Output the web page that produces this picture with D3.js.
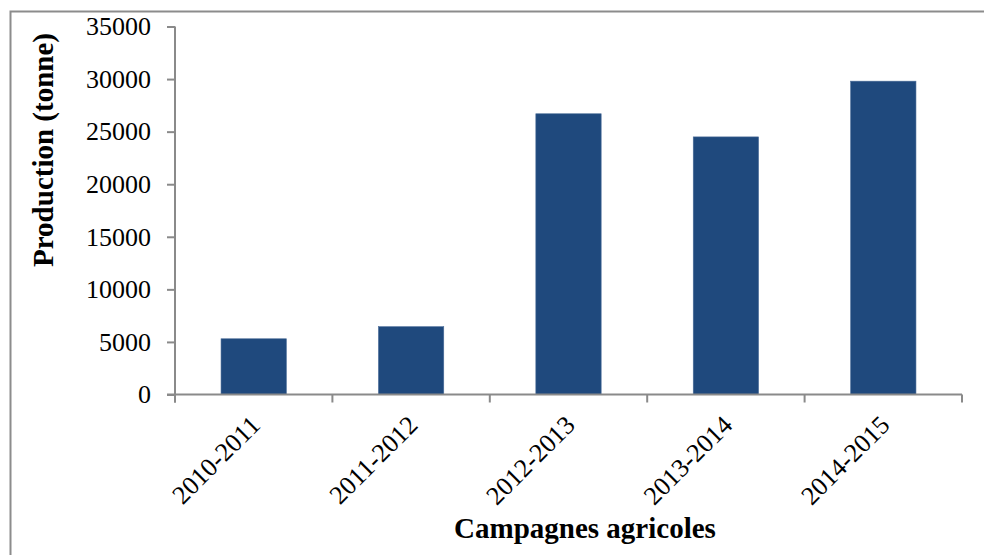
<!DOCTYPE html>
<html>
<head>
<meta charset="utf-8">
<script src="https://cdn.jsdelivr.net/npm/d3@7"></script>
<style>
  html, body { margin: 0; padding: 0; background: #fff; }
  svg { display: block; }
  text { font-family: "Liberation Serif", "Times New Roman", serif; fill: #000; }
</style>
</head>
<body>
<svg id="chart" width="984" height="555"></svg>
<script>
const categories = ["2010-2011", "2011-2012", "2012-2013", "2013-2014", "2014-2015"];
const production = [5300, 6450, 26700, 24500, 29800];
const yTicks = [0, 5000, 10000, 15000, 20000, 25000, 30000, 35000];
const yTitle = "Production (tonne)";
const xTitle = "Campagnes agricoles";

const svg = d3.select("#chart");
const plot = { left: 175, right: 962, top: 26.5, bottom: 394.5 };
const axisColor = "#8a8a8a";

// outer frame (extends beyond right and bottom edges)
svg.append("rect")
  .attr("x", 10.5).attr("y", 11.5)
  .attr("width", 1100).attr("height", 700)
  .attr("fill", "none").attr("stroke", "#8c8c8c").attr("stroke-width", 2);

const x = d3.scaleBand().domain(categories).range([plot.left, plot.right])
  .paddingInner(0.585).paddingOuter(0.2925);
const xOuter = d3.scaleBand().domain(categories).range([plot.left, plot.right]);
const y = d3.scaleLinear().domain([0, 35000]).range([plot.bottom, plot.top]);

// bars
svg.append("g").selectAll("rect").data(categories).join("rect")
  .attr("x", d => x(d))
  .attr("y", (d, i) => y(production[i]))
  .attr("width", x.bandwidth())
  .attr("height", (d, i) => y(0) - y(production[i]))
  .attr("fill", "#1f497d")
  .attr("stroke", "#4a6c98").attr("stroke-width", 0.6);

// y axis
const yAxis = svg.append("g").attr("transform", `translate(${plot.left},0)`)
  .call(d3.axisLeft(y).tickValues(yTicks).tickFormat(d3.format("d")).tickSize(8).tickPadding(16));
yAxis.select(".domain").attr("stroke", axisColor).attr("stroke-width", 2).attr("d", `M0,${plot.top}V${plot.bottom + 8}`);
yAxis.selectAll(".tick line").attr("stroke", axisColor).attr("stroke-width", 2);
yAxis.selectAll(".tick text").attr("font-size", 26).attr("font-family", "Liberation Serif").attr("fill", "#000");

// x axis: baseline and boundary ticks
const xg = svg.append("g");
xg.append("line").attr("x1", plot.left - 8).attr("x2", plot.right)
  .attr("y1", y(0)).attr("y2", y(0)).attr("stroke", axisColor).attr("stroke-width", 2);
const boundaries = categories.map(c => xOuter(c)).concat([plot.right]);
xg.selectAll("line.tk").data(boundaries).join("line").attr("class", "tk")
  .attr("x1", d => d).attr("x2", d => d)
  .attr("y1", y(0)).attr("y2", y(0) + 8)
  .attr("stroke", axisColor).attr("stroke-width", 2);

// rotated category labels
xg.selectAll("text.cat").data(categories).join("text").attr("class", "cat")
  .attr("transform", d => `translate(${xOuter(d) + xOuter.bandwidth() / 2 + 8},${y(0) + 32}) rotate(-45)`)
  .attr("text-anchor", "end")
  .attr("font-size", 26)
  .text(d => d);

// axis titles
svg.append("text")
  .attr("transform", `translate(53,${(30 + 270) / 2}) rotate(-90)`)
  .attr("text-anchor", "middle")
  .attr("font-size", 29).attr("font-weight", "bold")
  .text(yTitle);

svg.append("text")
  .attr("x", 585).attr("y", 538)
  .attr("text-anchor", "middle")
  .attr("font-size", 29).attr("font-weight", "bold")
  .text(xTitle);
</script>
</body>
</html>
